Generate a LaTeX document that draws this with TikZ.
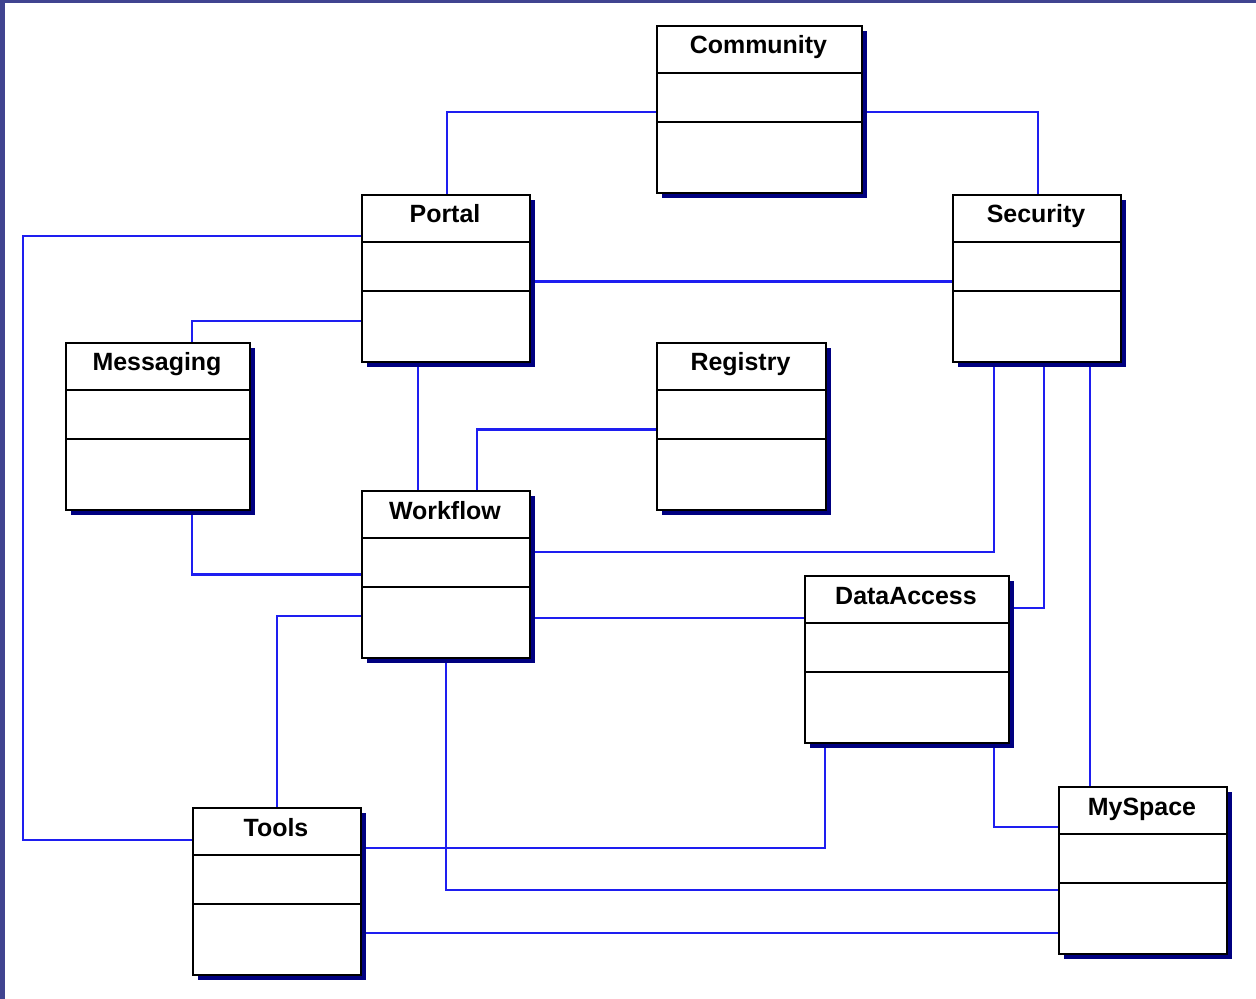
\documentclass[tikz,border=0pt]{standalone}
\usepackage{fontspec}
\setmainfont{Liberation Sans}
\usetikzlibrary{calc,shadows}
\definecolor{frameblue}{RGB}{64,68,144}
\definecolor{linkblue}{RGB}{30,30,240}
\definecolor{shadownavy}{RGB}{0,0,128}
\pgfdeclarelayer{bg}\pgfsetlayers{bg,main}
\tikzset{classbox/.style={draw,fill=white,line width=1.1pt,minimum height=3.34cm,anchor=north west,inner sep=0pt,
  general shadow={fill=shadownavy,shadow xshift=0.1cm,shadow yshift=-0.1cm}}}
\tikzset{classname/.style={font=\fontsize{14.2}{17}\selectfont\bfseries,anchor=base,inner sep=0pt}}
\tikzset{divider/.style={line width=0.85pt}}
\tikzset{link/.style={draw=linkblue,line width=1.2pt}}
\newcommand{\umlclass}[5]{% name, x, y, width in px, title
\node[classbox,minimum width=#4*0.02cm](#1)at(#2,#3){};
\draw[divider]($(#1.north west)+(0,48)$)--($(#1.north east)+(0,48)$);
\draw[divider]($(#1.north west)+(0,97)$)--($(#1.north east)+(0,97)$);
\node[classname](#1-title)at($(#1.north)+(-1,29)$){#5};}
\begin{document}
\begin{tikzpicture}[x=0.02cm,y=-0.02cm]
\useasboundingbox (0,0) rectangle (1256,999);
% classes
\umlclass{community}{656}{25}{205}{Community}
\umlclass{portal}{361}{194}{168}{Portal}
\umlclass{security}{952}{194}{168}{Security}
\umlclass{messaging}{65}{342}{184}{Messaging}
\umlclass{registry}{656}{342}{169}{Registry}
\umlclass{workflow}{361}{490}{168}{Workflow}
\umlclass{dataaccess}{804}{575}{204}{DataAccess}
\umlclass{tools}{192}{807}{168}{Tools}
\umlclass{myspace}{1058}{786}{168}{MySpace}
\begin{pgfonlayer}{bg}
\fill[white](0,0)rectangle(1256,999);
\fill[frameblue](0,0)rectangle(5,999);\fill[frameblue](0,0)rectangle(1256,3);
\coordinate (leftrail) at (23,0);
% associations
\draw[link]($(community.west)+(0,3)$)-|($(portal.north west)+(86,0)$);
\draw[link]($(community.east)+(0,3)$)-|($(security.north west)+(86,0)$);
\draw[link]($(portal.east)+(0,3)$)--($(security.west)+(0,3)$);
\draw[link]($(portal.north west)+(0,42)$)--(leftrail|-{$(portal.north west)+(0,42)$})|-($(tools.north west)+(0,33)$);
\draw[link]($(portal.north west)+(0,127)$)-|($(messaging.north west)+(127,0)$);
\draw[link]($(portal.south west)+(57,0)$)--($(workflow.north west)+(57,0)$);
\draw[link]($(registry.west)+(0,3)$)-|($(workflow.north west)+(116,0)$);
\draw[link]($(messaging.south west)+(127,0)$)|-(workflow.west);
\draw[link]($(workflow.north east)+(0,62)$)-|($(security.south west)+(42,0)$);
\draw[link]($(workflow.north east)+(0,128)$)--($(dataaccess.north west)+(0,43)$);
\draw[link]($(workflow.north west)+(0,126)$)-|(tools.north);
\draw[link]($(security.south west)+(92,0)$)|-($(dataaccess.north east)+(0,33)$);
\draw[link]($(security.south west)+(138,0)$)--($(myspace.north west)+(32,0)$);
\draw[link]($(dataaccess.south west)+(21,0)$)|-($(tools.north east)+(0,41)$);
\draw[link]($(dataaccess.south west)+(190,0)$)|-($(myspace.north west)+(0,41)$);
\draw[link](workflow.south)|-($(myspace.north west)+(0,104)$);
\draw[link]($(tools.north east)+(0,126)$)--($(myspace.north west)+(0,147)$);
\end{pgfonlayer}
\end{tikzpicture}
\end{document}
